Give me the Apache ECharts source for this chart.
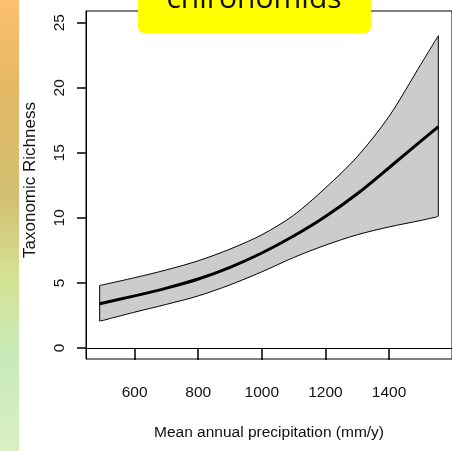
<!DOCTYPE html>
<html>
<head>
<meta charset="utf-8">
<script src="https://cdn.jsdelivr.net/npm/echarts@6/dist/echarts.min.js"></script>
<style>
html,body{margin:0;padding:0;background:#fff;}
#chart{width:452px;height:451px;}
</style>
</head>
<body>
<div id="chart"></div>
<script>
// Data
const precip = [490, 600, 700, 800, 900, 1000, 1100, 1200, 1300, 1400, 1500, 1555];
const meanRich = [3.4, 4.0, 4.6, 5.3, 6.2, 7.3, 8.6, 10.1, 11.85, 13.85, 15.9, 17.0];
const upperRich = [4.8, 5.4, 6.0, 6.7, 7.6, 8.7, 10.2, 12.3, 14.7, 17.8, 21.8, 24.0];
const lowerRich = [2.05, 2.75, 3.35, 4.0, 4.85, 5.85, 6.95, 7.9, 8.7, 9.3, 9.8, 10.1];
const xTicks = [600, 800, 1000, 1200, 1400];
const yTicks = [0, 5, 10, 15, 20, 25];
const titleText = 'chironomids';
const xTitle = 'Mean annual precipitation (mm/y)';
const yTitle = 'Taxonomic Richness';

const chart = echarts.init(document.getElementById('chart'), null, {renderer: 'canvas'});

const meanData = precip.map((x, i) => [x, meanRich[i]]);
const lowerData = precip.map((x, i) => [x, lowerRich[i]]);
const upperData = precip.map((x, i) => [x, upperRich[i]]);
const last = precip.length - 1;
const leftEdge = [[precip[0], lowerRich[0]], [precip[0], upperRich[0]]];
const rightEdge = [[precip[last], lowerRich[last]], [precip[last], upperRich[last]]];
const leftCover = [[precip[0], 0], [precip[0], lowerRich[0]]];
const rightCover = [[precip[last], 0], [precip[last], lowerRich[last]]];

const font = 'Liberation Sans';
const option = {
  animation: false,
  backgroundColor: '#ffffff',
  grid: {
    left: 86, top: 11, right: -5, bottom: 92,
    show: true, borderColor: '#000', borderWidth: 1, backgroundColor: 'transparent'
  },
  xAxis: {
    type: 'value', min: 447, max: 1598,
    name: xTitle,
    nameLocation: 'middle', nameGap: 66,
    nameTextStyle: {fontFamily: font, fontSize: 15.5, color: '#111'},
    axisLine: {show: true, lineStyle: {color: '#000', width: 1}},
    axisTick: {show: true, length: 12, customValues: xTicks, lineStyle: {color: '#000', width: 1.5}},
    axisLabel: {customValues: xTicks, margin: 26, fontFamily: font, fontSize: 15.5, color: '#111',
      formatter: v => String(v)},
    splitLine: {show: false}
  },
  yAxis: {
    type: 'value', min: -0.85, max: 25.9,
    axisLine: {show: true, lineStyle: {color: '#000', width: 1}},
    axisTick: {show: true, length: 9, customValues: yTicks, lineStyle: {color: '#000', width: 1.5}},
    axisLabel: {customValues: yTicks, rotate: 90, margin: 18, fontFamily: font, fontSize: 15.5, color: '#111',
      formatter: v => String(v)},
    splitLine: {show: false}
  },
  series: [
    {
      type: 'line', data: upperData, smooth: 0.3, showSymbol: false,
      lineStyle: {color: '#000', width: 1},
      areaStyle: {color: '#cccccc', opacity: 1, origin: 0}, z: 1
    },
    {
      type: 'line', data: lowerData, smooth: 0.3, showSymbol: false,
      lineStyle: {color: '#000', width: 1},
      areaStyle: {color: '#ffffff', opacity: 1, origin: 0}, z: 2
    },
    {
      type: 'line', data: leftCover, showSymbol: false,
      lineStyle: {color: '#ffffff', width: 2}, z: 2
    },
    {
      type: 'line', data: rightCover, showSymbol: false,
      lineStyle: {color: '#ffffff', width: 2}, z: 2
    },
    {
      type: 'line', data: leftEdge, showSymbol: false,
      lineStyle: {color: '#000', width: 1}, z: 3
    },
    {
      type: 'line', data: rightEdge, showSymbol: false,
      lineStyle: {color: '#000', width: 1}, z: 3
    },
    {
      type: 'line', data: meanData, smooth: 0.3, showSymbol: false,
      lineStyle: {color: '#000', width: 3}, z: 4
    }
  ],
  graphic: [
    {
      type: 'rect', z: 10,
      shape: {x: 0, y: 0, width: 19, height: 451},
      style: {
        fill: new echarts.graphic.LinearGradient(0, 0, 0, 1, [
          {offset: 0, color: '#fcc06e'},
          {offset: 0.2, color: '#e3b865'},
          {offset: 0.45, color: '#d2c173'},
          {offset: 0.62, color: '#d4e294'},
          {offset: 0.78, color: '#c8eab8'},
          {offset: 1, color: '#d8efc2'}
        ])
      }
    },
    {
      type: 'rect', z: 10,
      shape: {x: 138, y: -10, width: 233, height: 43, r: [0, 0, 6, 6]},
      style: {fill: '#ffff00'}
    },
    {
      type: 'text', z: 11,
      x: 254, y: -15.5,
      style: {
        text: titleText, fontFamily: 'Open Sans', fontSize: 30,
        fill: '#111', align: 'center', verticalAlign: 'top'
      }
    },
    {
      type: 'text', z: 11,
      x: 30, y: 180, rotation: Math.PI / 2,
      style: {
        text: yTitle, fontFamily: font, fontSize: 17,
        fill: '#111', align: 'center', verticalAlign: 'middle'
      }
    }
  ]
};
chart.setOption(option);
</script>
</body>
</html>
